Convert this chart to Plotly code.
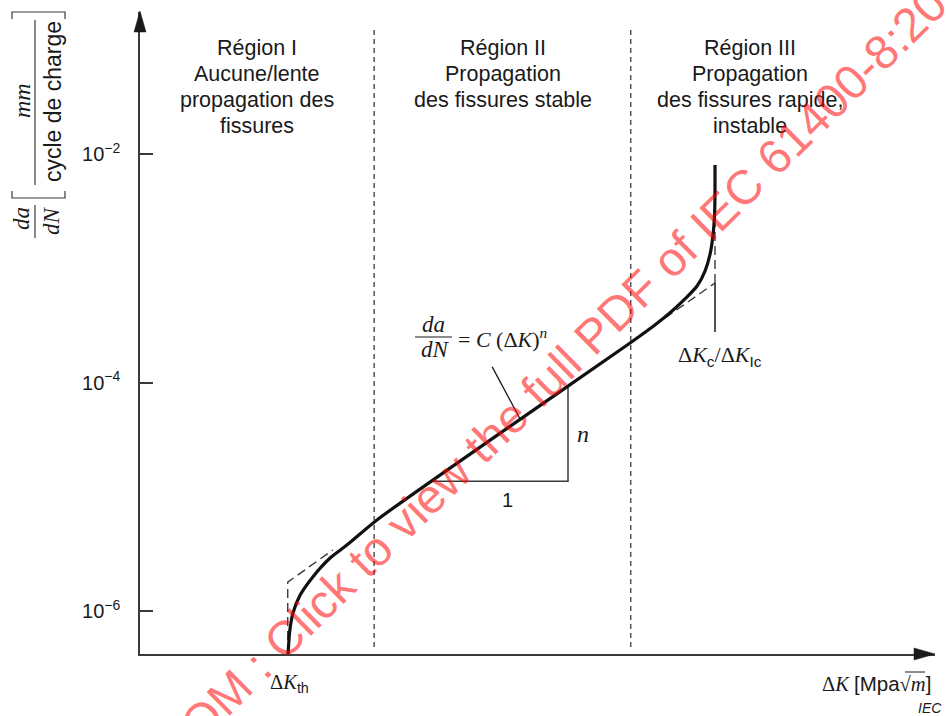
import plotly.graph_objects as go

# --- Fatigue crack growth curve: da/dN [mm/cycle] versus ΔK [MPa√m] ---
dk_curve = [2.003, 2.02, 2.05, 2.12, 2.25, 2.44, 2.64, 3.04, 5.42, 9.97,
            11.20, 12.14, 12.96, 13.65, 14.17, 14.51, 14.71, 14.82, 14.85, 14.85]
dadn_curve = [4.21e-7, 6.82e-7, 9.62e-7, 1.38e-6, 1.99e-6, 2.91e-6, 3.78e-6, 6.27e-6,
              3.61e-5, 2.22e-4, 3.19e-4, 4.23e-4, 5.50e-4, 7.00e-4, 9.46e-4,
              1.33e-3, 1.95e-3, 2.92e-3, 4.84e-3, 8.02e-3]

# Paris-law asymptotes (dashed)
dk_low_asym = [2.0, 2.0, 2.47]
dadn_low_asym = [4.21e-7, 1.79e-6, 3.42e-6]
dk_high_asym = [11.74, 14.85]
dadn_high_asym = [3.67e-4, 7.43e-4]
dk_kc_asym = [14.85, 14.85]
dadn_kc_asym = [7.43e-4, 2.4e-3]

# ΔKc / ΔKIc marker
dk_kc_mark = [14.85, 14.85]
dadn_kc_mark = [2.77e-4, 7.43e-4]

# Slope triangle (1 : n) and formula leader
dk_tri = [3.92, 7.45, 7.45]
dadn_tri = [1.37e-5, 1.37e-5, 9.33e-5]
dk_leader = [5.22, 5.95]
dadn_leader = [1.37e-4, 4.80e-5]

# Region boundaries
dk_bounds = [3.0, 10.0]

y_tickvals = [1e-6, 1e-4, 1e-2]
y_ticktext = ["10<sup>−6</sup>", "10<sup>−4</sup>", "10<sup>−2</sup>"]

region_titles = [
    ["Région I", "Aucune/lente", "propagation des", "fissures"],
    ["Région II", "Propagation", "des fissures stable"],
    ["Région III", "Propagation", "des fissures rapide,", "instable"],
]

SANS = "Liberation Sans, Arial, sans-serif"
SERIF = "Liberation Serif, Times New Roman, serif"
INK = "#1a1a1a"
AX = "#3a3a3a"

W_FIG, H_FIG = 946, 716
ML, MR, MT, MB = 140, 11, 12, 62
PW = W_FIG - ML - MR
PH = H_FIG - MT - MB


def pxx(px):
    return (px - ML) / PW


def pxy(py):
    return (H_FIG - MB - py) / PH


fig = go.Figure()

dash_long = dict(color=AX, width=1.4, dash="9px,5px")
fig.add_trace(go.Scatter(x=dk_low_asym, y=dadn_low_asym, mode="lines", line=dash_long))
fig.add_trace(go.Scatter(x=dk_high_asym, y=dadn_high_asym, mode="lines", line=dash_long))
fig.add_trace(go.Scatter(x=dk_kc_asym, y=dadn_kc_asym, mode="lines", line=dash_long))
fig.add_trace(go.Scatter(x=dk_kc_mark, y=dadn_kc_mark, mode="lines",
                         line=dict(color=INK, width=1.5)))
fig.add_trace(go.Scatter(x=dk_tri, y=dadn_tri, mode="lines",
                         line=dict(color=AX, width=1.5)))
fig.add_trace(go.Scatter(x=dk_leader, y=dadn_leader, mode="lines",
                         line=dict(color=INK, width=1.3)))
fig.add_trace(go.Scatter(x=dk_curve, y=dadn_curve, mode="lines",
                         line=dict(color="#111111", width=3.2, shape="spline", smoothing=0.7)))

shapes = []
for xb in dk_bounds:
    shapes.append(dict(type="line", xref="x", yref="paper", x0=xb, x1=xb,
                       y0=pxy(647), y1=pxy(27),
                       line=dict(color=AX, width=1.3, dash="5px,4px")))

# axis arrowheads
shapes.append(dict(type="path", xref="paper", yref="paper",
                   path=f"M {pxx(140)} {pxy(11)} L {pxx(134)} {pxy(32)} L {pxx(146)} {pxy(32)} Z",
                   fillcolor=INK, line=dict(color=INK, width=0.5)))
shapes.append(dict(type="path", xref="paper", yref="paper",
                   path=f"M {pxx(935)} {pxy(654)} L {pxx(914)} {pxy(648)} L {pxx(914)} {pxy(660)} Z",
                   fillcolor=INK, line=dict(color=INK, width=0.5)))

# y-title fraction bars and brackets
shapes.append(dict(type="line", xref="paper", yref="paper",
                   x0=pxx(35), x1=pxx(35), y0=pxy(20), y1=pxy(185),
                   line=dict(color=AX, width=1.2)))
shapes.append(dict(type="line", xref="paper", yref="paper",
                   x0=pxx(35), x1=pxx(35), y0=pxy(205), y1=pxy(238),
                   line=dict(color=AX, width=1.2)))
shapes.append(dict(type="path", xref="paper", yref="paper",
                   path=f"M {pxx(12)} {pxy(19)} L {pxx(12)} {pxy(12)} L {pxx(65)} {pxy(12)} L {pxx(65)} {pxy(19)}",
                   line=dict(color=AX, width=1.2)))
shapes.append(dict(type="path", xref="paper", yref="paper",
                   path=f"M {pxx(12)} {pxy(191)} L {pxx(12)} {pxy(198)} L {pxx(65)} {pxy(198)} L {pxx(65)} {pxy(191)}",
                   line=dict(color=AX, width=1.2)))
# formula fraction bar
shapes.append(dict(type="line", xref="paper", yref="paper",
                   x0=pxx(415), x1=pxx(452), y0=pxy(337), y1=pxy(337),
                   line=dict(color=INK, width=1.2)))
# radical overbar in the x-axis unit
shapes.append(dict(type="line", xref="paper", yref="paper",
                   x0=pxx(905), x1=pxx(925), y0=pxy(672), y1=pxy(672),
                   line=dict(color=INK, width=1.0)))

ann = []


def txt(px, py, text, size, family=SANS, angle=0, xanchor="center", italic=False, color=INK):
    ann.append(dict(xref="paper", yref="paper", x=pxx(px), y=pxy(py), text=text,
                    showarrow=False, xanchor=xanchor, yanchor="middle", textangle=angle,
                    font=dict(family=family, size=size, color=color,
                              style="italic" if italic else "normal")))


# region headings
centers = [257, 503, 750]
for cx, lines in zip(centers, region_titles):
    for i, line in enumerate(lines):
        txt(cx, 48 + 26 * i, line, 21.5)

# y-axis title
txt(53, 102, "cycle de charge", 23, angle=-90)
txt(22, 101, "mm", 24, family=SERIF, angle=-90, italic=True)
txt(21, 219, "da", 23, family=SERIF, angle=-90, italic=True)
txt(51, 221, "dN", 23, family=SERIF, angle=-90, italic=True)

# x-axis title and threshold labels
txt(933, 683, f"Δ<i>K</i> <span style=\"font-family:{SANS}\">[Mpa</span>√<i>m</i><span style=\"font-family:{SANS}\">]</span>",
    20.5, family=SERIF, xanchor="right")
txt(289, 683, f"Δ<i>K</i><sub><span style=\"font-family:{SANS}\">th</span></sub>", 20.5, family=SERIF)
txt(720, 356, f"Δ<i>K</i><sub><span style=\"font-family:{SANS}\">c</span></sub>/Δ<i>K</i><sub><span style=\"font-family:{SANS}\">Ic</span></sub>",
    22, family=SERIF)
txt(944, 708, "IEC", 14, xanchor="right", italic=True)

# Paris law formula
txt(433, 324, "da", 23, family=SERIF, italic=True)
txt(435, 350, "dN", 23, family=SERIF, italic=True)
txt(456, 338, "= <i>C</i> (Δ<i>K</i>)<sup><i>n</i></sup>", 22, family=SERIF, xanchor="left")
txt(583, 434, "n", 24, family=SERIF, italic=True)
txt(507, 500, "1", 20)

# watermark
ann.append(dict(xref="paper", yref="paper", x=pxx(484), y=pxy(442),
                text="IECNORM.COM : Click to view the full PDF of IEC 61400-8:2024",
                showarrow=False, xanchor="center", yanchor="middle", textangle=-44.5,
                font=dict(family=SANS, size=48, color="rgba(255,0,0,0.55)")))

fig.update_layout(
    width=W_FIG, height=H_FIG,
    margin=dict(l=ML, r=MR, t=MT, b=MB, pad=0),
    paper_bgcolor="white", plot_bgcolor="white",
    showlegend=False,
    shapes=shapes, annotations=ann,
    xaxis=dict(type="log", range=[0, 1.62], showgrid=False, zeroline=False,
               showline=True, linecolor=AX, linewidth=1.5, ticks="",
               showticklabels=False),
    yaxis=dict(type="log", range=[-6.376, -0.757], showgrid=False, zeroline=False,
               showline=True, linecolor=AX, linewidth=1.5,
               tickvals=y_tickvals, ticktext=y_ticktext,
               ticks="inside", ticklen=13, tickwidth=1.5, tickcolor=AX,
               ticklabelstandoff=14,
               tickfont=dict(family=SANS, size=20, color=INK)),
)

fig.write_html("out.html")
